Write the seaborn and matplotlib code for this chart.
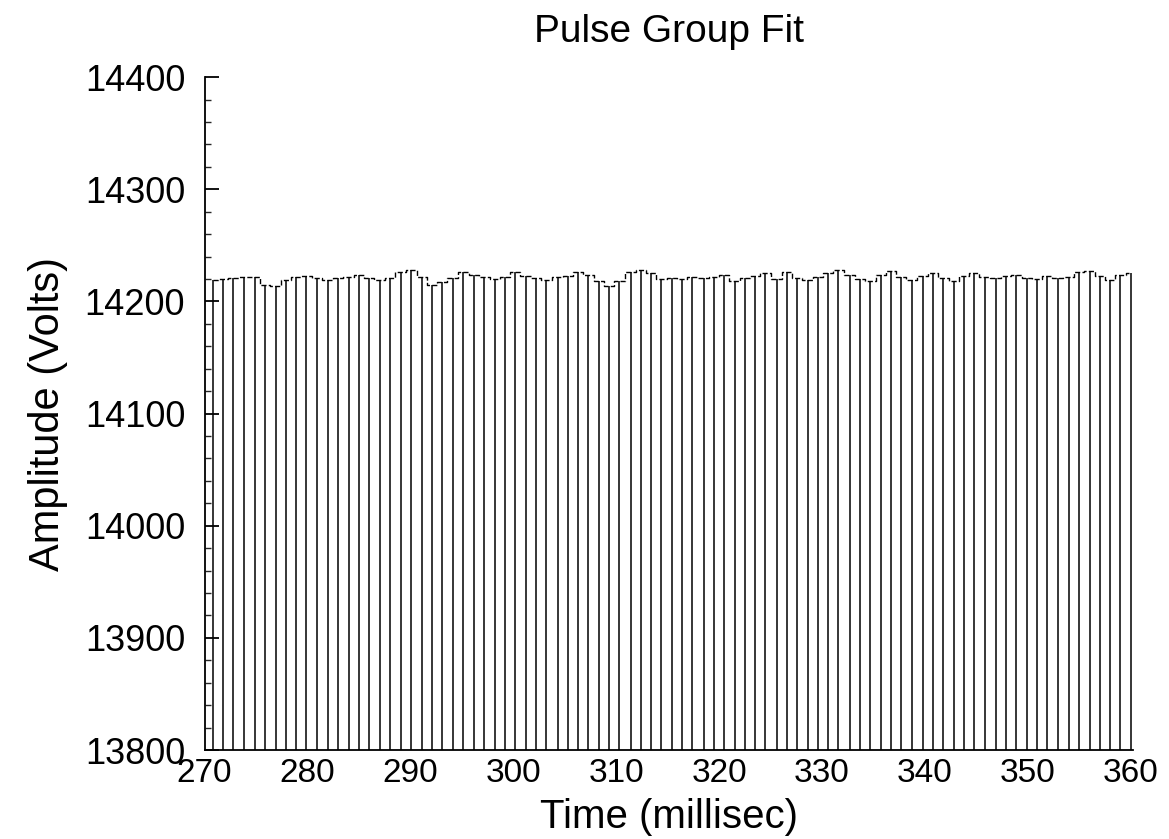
import numpy as np
import pandas as pd
import seaborn as sns
import matplotlib
matplotlib.use("Agg")
import matplotlib.pyplot as plt
from matplotlib.ticker import MultipleLocator

# pulse times (ms) and fitted pulse amplitudes (V)
pulse_time = [
    270.8, 271.8, 272.8, 273.8, 274.9, 275.9, 276.9, 277.9, 278.9, 279.9,
    280.9, 282.0, 283.0, 284.0, 285.0, 286.0, 287.0, 288.0, 289.1, 290.1,
    291.1, 292.1, 293.1, 294.1, 295.1, 296.2, 297.2, 298.2, 299.2, 300.2,
    301.2, 302.2, 303.2, 304.3, 305.3, 306.3, 307.3, 308.3, 309.3, 310.3,
    311.4, 312.4, 313.4, 314.4, 315.4, 316.4, 317.4, 318.5, 319.5, 320.5,
    321.5, 322.5, 323.5, 324.5, 325.6, 326.6, 327.6, 328.6, 329.6, 330.6,
    331.6, 332.7, 333.7, 334.7, 335.7, 336.7, 337.7, 338.7, 339.8, 340.8,
    341.8, 342.8, 343.8, 344.8, 345.8, 346.9, 347.9, 348.9, 349.9, 350.9,
    351.9, 352.9, 354.0, 355.0, 356.0, 357.0, 358.0, 359.0, 360.0,
]
pulse_amp = [
    14219, 14220, 14221, 14222, 14222, 14215, 14214, 14219, 14222, 14223,
    14221, 14219, 14221, 14222, 14224, 14221, 14219, 14221, 14226, 14228,
    14222, 14215, 14217, 14221, 14226, 14224, 14222, 14220, 14222, 14226,
    14223, 14221, 14219, 14222, 14223, 14226, 14224, 14218, 14214, 14218,
    14226, 14228, 14225, 14220, 14221, 14220, 14222, 14221, 14222, 14224,
    14218, 14221, 14223, 14225, 14220, 14226, 14221, 14219, 14222, 14225,
    14228, 14224, 14220, 14218, 14224, 14227, 14222, 14219, 14223, 14225,
    14221, 14218, 14223, 14225, 14222, 14221, 14223, 14224, 14221, 14220,
    14223, 14221, 14222, 14226, 14227, 14223, 14219, 14224, 14225,
]
baseline = 13800

df = pd.DataFrame({"time": pulse_time, "amp": pulse_amp})

sns.set_theme(style="ticks")
plt.rcParams["font.family"] = ["Liberation Sans", "DejaVu Sans"]

fig = plt.figure(figsize=(11.69, 8.39), dpi=100)
ax = fig.add_axes([0.175, 0.106, 0.794, 0.802])

ax.vlines(df["time"], baseline, df["amp"], color="black", linewidth=1.1)
sns.lineplot(data=df, x="time", y="amp", ax=ax, color="black",
             linewidth=1.0, drawstyle="steps-mid", linestyle="--")

ax.set_xlim(270, 360.2)
ax.set_ylim(13800, 14400)
ax.xaxis.set_major_locator(MultipleLocator(10))
ax.yaxis.set_major_locator(MultipleLocator(100))
ax.yaxis.set_minor_locator(MultipleLocator(20))

ax.tick_params(axis="y", which="major", direction="in", length=10, width=1.3,
               labelsize=26, pad=14, colors="black")
ax.tick_params(axis="y", which="minor", direction="in", length=4, width=1.0)
ax.tick_params(axis="x", which="major", length=0, labelsize=24, pad=6,
               colors="black")

for side in ["top", "right"]:
    ax.spines[side].set_visible(False)
for side in ["left", "bottom"]:
    ax.spines[side].set_linewidth(1.3)
    ax.spines[side].set_color("black")

ax.set_title("Pulse Group Fit", fontsize=28, pad=25, color="black")
ax.set_xlabel("Time (millisec)", fontsize=29, labelpad=6, color="black")
ax.set_ylabel("Amplitude (Volts)", fontsize=30, labelpad=12, color="black")

fig.savefig("out.png", dpi=100)
